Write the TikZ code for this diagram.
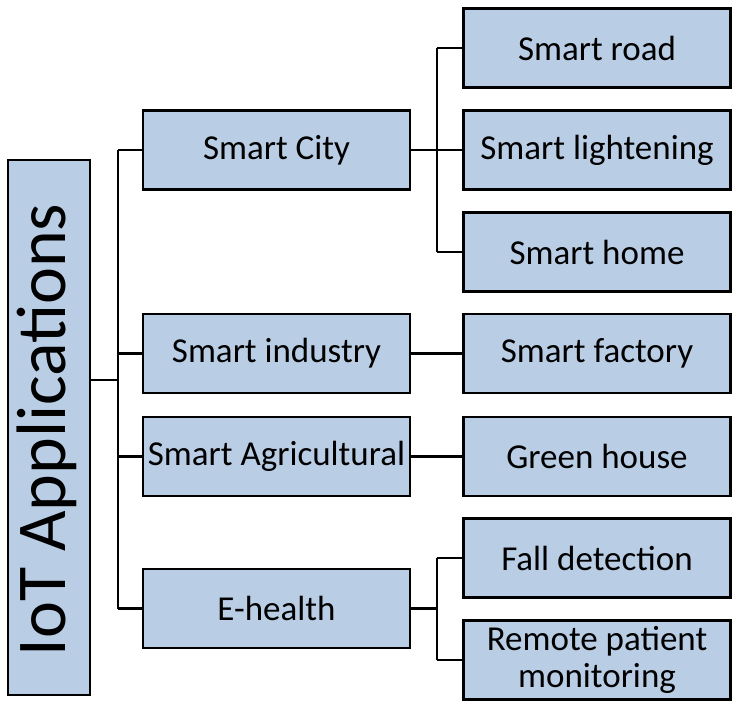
\documentclass[tikz,border=0pt]{standalone}
\usepackage{fontspec}
\setmainfont{Carlito}
\begin{document}
\begin{tikzpicture}[x=1pt,y=-1pt,
  box/.style={draw=black,line width=2.5pt,fill={rgb,255:red,185;green,205;blue,229},minimum width=#1,minimum height=79pt,inner sep=0pt,font=\fontsize{35}{37}\selectfont,align=center},
  box/.default=267pt,
  con/.style={line width=2.5pt}]
\useasboundingbox (0,0) rectangle (739,710);
\node[box=82pt,minimum height=535pt] (root) at (49,427.5) {};
\node[rotate=90,font=\fontsize{70}{74}\selectfont] at (47,430) {IoT Applications};
\node[box] (city) at (276.5,150) {Smart City};
\node[box] (ind) at (276.5,353.5) {Smart industry};
\node[box] (agr) at (276.5,456.5) {Smart Agricultural};
\node[box] (eh) at (276.5,608.5) {E-health};
\node[box] (road) at (597,48) {Smart road};
\node[box] (light) at (597,150) {Smart lightening};
\node[box] (home) at (597,252) {Smart home};
\node[box] (fac) at (597,353.5) {Smart factory};
\node[box] (gh) at (597,456.5) {Green house};
\node[box] (fall) at (597,558) {Fall detection};
\node[box] (rem) at (597,660) {Remote patient\\monitoring};
\coordinate (t) at (118,380);
\draw[con] (root.east |- t) -- (t);
\draw[con] (t |- city) -- (t |- eh);
\foreach \n in {city,ind,agr,eh} \draw[con] (t |- \n) -- (\n.west);
\coordinate (u) at (437,0);
\draw[con] (u |- road) -- (u |- home);
\draw[con] (city.east) -- (u |- city);
\foreach \n in {road,light,home} \draw[con] (u |- \n) -- (\n.west);
\draw[con] (ind.east) -- (fac.west);
\draw[con] (agr.east) -- (gh.west);
\draw[con] (u |- fall) -- (u |- rem);
\draw[con] (eh.east) -- (u |- eh);
\foreach \n in {fall,rem} \draw[con] (u |- \n) -- (\n.west);
\end{tikzpicture}
\end{document}
